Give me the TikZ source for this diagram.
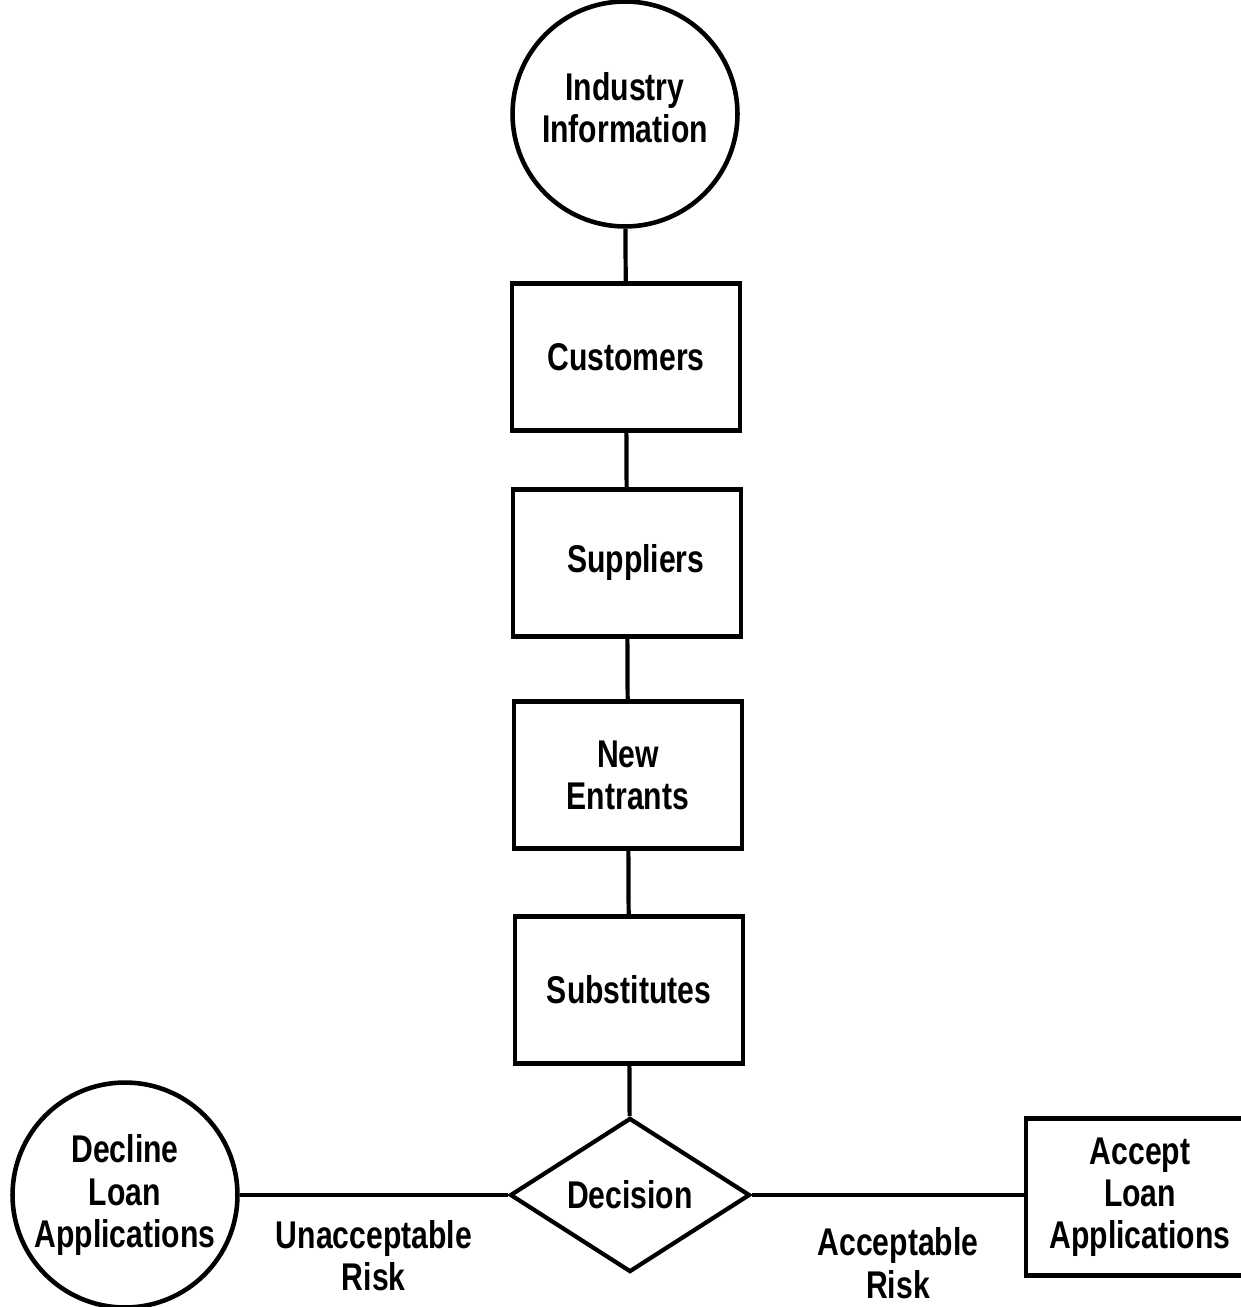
\documentclass[tikz,border=0pt]{standalone}
\usepackage{fontspec}
\setmainfont{Liberation Sans}[FakeStretch=0.78]
\usetikzlibrary{shapes.geometric, positioning}

\begin{document}
\begin{tikzpicture}[
		x=0.02cm, y=-0.02cm,
		font=\bfseries\fontsize{22}{24}\selectfont,
		link/.style={line width=2.4pt, black},
		factor/.style={draw, line width=2.4pt, rectangle, minimum width=4.56cm, minimum height=2.94cm, inner sep=0pt, align=center},
		source/.style={draw, line width=2.6pt, circle, minimum size=4.5cm, inner sep=0pt, align=center},
		choice/.style={draw, line width=2.4pt, diamond, minimum width=4.8cm, minimum height=2.86cm, inner sep=0pt, align=center},
		risk/.style={midway, align=center}
		]
		\useasboundingbox (0,0) rectangle (1240,1307);
		
		% 1. Industry information and the five factors
		\node[source] (industry) at (625,114) {Industry\\Information\\[-0.6cm]};
		\node[factor] (customers) at (626,357) {Customers};
		\node[factor] (suppliers) at (627,563) {\hspace{0.35cm}Suppliers};
		\node[factor] (entrants) at (628,775) {New\\Entrants};
		\node[factor] (substitutes) at (629,990) {Substitutes};
		
		% 2. Decision and outcomes
		\node[choice] (decision) at (630,1195) {Decision};
		\node[source] (decline) at (125,1195) {Decline\\Loan\\Applications};
		\node[factor, minimum height=3.14cm] (accept) at (1140,1197) {Accept\\Loan\\Applications};
		
		% Connections
		\draw[link] (industry) -- (customers);
		\draw[link] (customers) -- (suppliers);
		\draw[link] (suppliers) -- (entrants);
		\draw[link] (entrants) -- (substitutes);
		\draw[link] (substitutes) -- (decision);
		\draw[link] (decline) -- node[risk, below=0.35cm] {Unacceptable\\Risk} (decision);
		\draw[link] (decision) -- node[risk, below=0.5cm, xshift=0.2cm] {Acceptable\\Risk} (decision -| accept.west);
		
	\end{tikzpicture}
\end{document}
